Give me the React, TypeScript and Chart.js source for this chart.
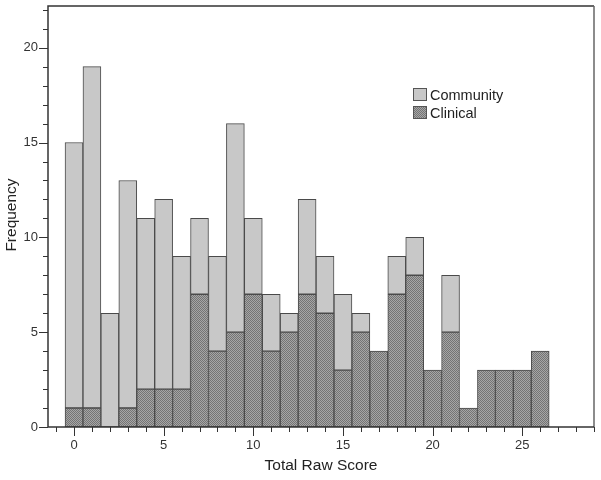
import React, { useEffect, useRef } from "react";
import { Chart, registerables } from "chart.js";
Chart.register(...registerables);

const scores = [0, 1, 2, 3, 4, 5, 6, 7, 8, 9, 10, 11, 12, 13, 14, 15, 16, 17, 18, 19, 20, 21, 22, 23, 24, 25, 26];
const totalFreq = [15, 19, 6, 13, 11, 12, 9, 11, 9, 16, 11, 7, 6, 12, 9, 7, 6, 4, 9, 10, 3, 8, 1, 3, 3, 3, 4];
const clinicalFreq = [1, 1, 0, 1, 2, 2, 2, 7, 4, 5, 7, 4, 5, 7, 6, 3, 5, 4, 7, 8, 3, 5, 1, 3, 3, 3, 4];
const communityFreq = totalFreq.map((t, i) => t - clinicalFreq[i]);
const seriesNames = ["Community", "Clinical"];
const xTitle = "Total Raw Score";
const yTitle = "Frequency";

function makePattern(): CanvasPattern | string {
  const c = document.createElement("canvas");
  c.width = 2;
  c.height = 2;
  const g = c.getContext("2d");
  if (!g) return "#909090";
  g.fillStyle = "#a6a6a6";
  g.fillRect(0, 0, 2, 2);
  g.fillStyle = "#747474";
  g.fillRect(0, 0, 1, 1);
  g.fillRect(1, 1, 1, 1);
  const p = g.createPattern(c, "repeat");
  return p || "#909090";
}

export default function App() {
  const ref = useRef<HTMLCanvasElement>(null);
  useEffect(() => {
    const canvas = ref.current;
    if (!canvas) return;
    const pattern = makePattern();
    const font = "Arial, 'Liberation Sans', sans-serif";

    const decor = {
      id: "decor",
      afterDraw(chart: any) {
        const ctx = chart.ctx;
        const a = chart.chartArea;
        const xs = chart.scales.x;
        const ys = chart.scales.y;
        ctx.save();
        // frame
        ctx.strokeStyle = "#333";
        ctx.lineWidth = 1.5;
        ctx.beginPath();
        ctx.moveTo(a.left, a.bottom);
        ctx.lineTo(a.left, a.top);
        ctx.lineTo(a.right, a.top);
        ctx.stroke();
        ctx.strokeStyle = "#666";
        ctx.beginPath();
        ctx.moveTo(a.right, a.top);
        ctx.lineTo(a.right, a.bottom);
        ctx.stroke();
        ctx.strokeStyle = "#333";
        ctx.beginPath();
        ctx.moveTo(a.left, a.bottom);
        ctx.lineTo(a.right, a.bottom);
        ctx.stroke();
        // ticks
        ctx.lineWidth = 1;
        ctx.strokeStyle = "#333";
        for (let v = Math.ceil(xs.min); v <= Math.floor(xs.max); v++) {
          const len = v % 5 === 0 ? 9 : 5;
          const px = Math.round(xs.getPixelForValue(v)) + 0.5;
          ctx.beginPath();
          ctx.moveTo(px, a.bottom);
          ctx.lineTo(px, a.bottom + len);
          ctx.stroke();
        }
        for (let v = Math.ceil(ys.min); v <= Math.floor(ys.max); v++) {
          const len = v % 5 === 0 ? 9 : 5;
          const py = Math.round(ys.getPixelForValue(v)) + 0.5;
          ctx.beginPath();
          ctx.moveTo(a.left - len, py);
          ctx.lineTo(a.left, py);
          ctx.stroke();
        }
        // axis titles
        ctx.fillStyle = "#222";
        ctx.font = `15.5px ${font}`;
        ctx.textAlign = "center";
        ctx.textBaseline = "middle";
        ctx.fillText(xTitle, (a.left + a.right) / 2, 466);
        ctx.save();
        ctx.translate(12, 215);
        ctx.rotate(-Math.PI / 2);
        ctx.fillText(yTitle, 0, 0);
        ctx.restore();
        // legend
        const fills = ["#c8c8c8", pattern];
        const boxY = [88, 106];
        ctx.font = `14.5px ${font}`;
        ctx.textAlign = "left";
        for (let i = 0; i < 2; i++) {
          ctx.fillStyle = fills[i] as any;
          ctx.fillRect(413, boxY[i], 14, 13);
          ctx.strokeStyle = "#555";
          ctx.lineWidth = 1;
          ctx.strokeRect(413.5, boxY[i] + 0.5, 13, 12);
          ctx.fillStyle = "#222";
          ctx.fillText(seriesNames[i], 430, boxY[i] + 7.5);
        }
        ctx.restore();
      },
    };

    const chart = new Chart(canvas, {
      type: "bar",
      data: {
        labels: scores,
        datasets: [
          {
            label: seriesNames[1],
            data: scores.map((s, i) => ({ x: s, y: clinicalFreq[i] })),
            backgroundColor: pattern as any,
            borderColor: "#4a4a4a",
            borderWidth: 1,
            barPercentage: 1,
            categoryPercentage: 1,
            borderSkipped: false,
          },
          {
            label: seriesNames[0],
            data: scores.map((s, i) => ({ x: s, y: communityFreq[i] })),
            backgroundColor: "#c8c8c8",
            borderColor: "#4a4a4a",
            borderWidth: 1,
            barPercentage: 1,
            categoryPercentage: 1,
            borderSkipped: false,
          },
        ],
      },
      options: {
        animation: false,
        responsive: false,
        maintainAspectRatio: false,
        layout: { padding: { left: 0, right: 7, top: 6, bottom: 0 } },
        plugins: { legend: { display: false }, tooltip: { enabled: false } },
        scales: {
          x: {
            type: "linear",
            stacked: true,
            min: -1.45,
            max: 29,
            offset: false,
            border: { display: false },
            grid: { display: false, offset: false, drawTicks: false, tickLength: 9 },
            ticks: { stepSize: 5, includeBounds: false, color: "#333", font: { size: 13, family: font }, padding: 11, maxRotation: 0 },
            afterFit(s: any) { s.height = 53; s.paddingLeft = 0; s.paddingRight = 0; },
          },
          y: {
            stacked: true,
            min: 0,
            max: 22.2,
            border: { display: false },
            grid: { display: false, drawTicks: false, tickLength: 9 },
            ticks: { stepSize: 5, includeBounds: false, color: "#333", font: { size: 13, family: font }, padding: 10 },
            afterFit(s: any) { s.width = 48; s.paddingTop = 0; s.paddingBottom = 0; },
          },
        },
      },
      plugins: [decor],
    });
    return () => chart.destroy();
  }, []);
  return (
    <div style={{ position: "absolute", left: 0, top: 0, width: 601, height: 480, background: "#fff" }}>
      <canvas ref={ref} width={601} height={480} style={{ width: 601, height: 480, display: "block" }} />
    </div>
  );
}
